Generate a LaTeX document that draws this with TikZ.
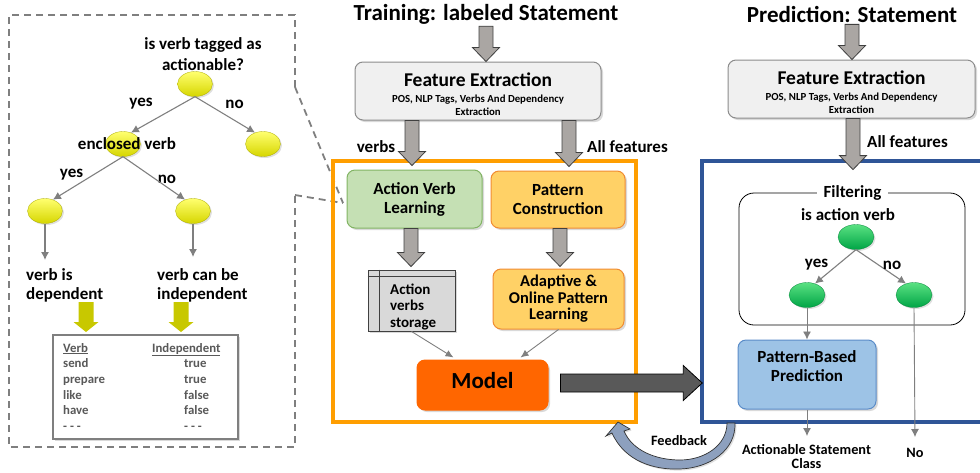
\documentclass[tikz,border=0pt]{standalone}
\usepackage{fontspec}
\setmainfont{Carlito}
\usetikzlibrary{shapes.geometric,arrows.meta,shadows,calc}
\definecolor{treegray}{RGB}{127,127,127}
\definecolor{ballyel}{RGB}{214,214,0}
\definecolor{ballyeltop}{RGB}{255,255,110}
\definecolor{olivearrow}{RGB}{200,200,0}
\definecolor{arrowfill}{RGB}{170,166,163}
\definecolor{arrowline}{RGB}{64,64,64}
\definecolor{fefill}{RGB}{240,240,240}
\definecolor{feline}{RGB}{140,140,140}
\definecolor{avlfill}{RGB}{197,224,180}
\definecolor{avlline}{RGB}{130,180,100}
\definecolor{pcfill}{RGB}{255,209,102}
\definecolor{pcline}{RGB}{240,140,50}
\definecolor{storefill}{RGB}{217,217,217}
\definecolor{modelfill}{RGB}{255,102,0}
\definecolor{bigarrow}{RGB}{89,89,89}
\definecolor{orframe}{RGB}{255,158,0}
\definecolor{blframe}{RGB}{47,85,151}
\definecolor{pbpfill}{RGB}{157,195,230}
\definecolor{pbpline}{RGB}{91,140,200}
\definecolor{gtop}{RGB}{90,225,130}
\definecolor{gbot}{RGB}{0,165,70}
\definecolor{fbfill}{RGB}{141,160,190}
\definecolor{tbltext}{RGB}{89,89,89}
\newcommand\fsz[2]{\fontsize{#1}{#2}\selectfont}
\newcommand\garrow[2]{%
  \filldraw[fill=arrowfill,draw=arrowline,line width=0.8pt,line join=miter]
    let \p1=#1, \p2=#2 in
    (\x1-7pt,\y1) -- (\x1+7pt,\y1) -- (\x1+7pt,\y2+14pt) -- (\x1+13.5pt,\y2+14pt)
    -- (\x1,\y2) -- (\x1-13.5pt,\y2+14pt) -- (\x1-7pt,\y2+14pt) -- cycle;}
\newcommand\yarrow[2]{%
  \fill[olivearrow]
    let \p1=#1, \p2=#2 in
    (\x1-7.5pt,\y1) -- (\x1+7.5pt,\y1) -- (\x1+7.5pt,\y2+10pt) -- (\x1+12.5pt,\y2+10pt)
    -- (\x1,\y2) -- (\x1-12.5pt,\y2+10pt) -- (\x1-7.5pt,\y2+10pt) -- cycle;}
\begin{document}
\begin{tikzpicture}[x=1pt,y=-1pt,font=\bfseries,
  txt/.style={inner sep=0pt,align=center},
  yball/.style={ellipse,minimum width=35pt,minimum height=25pt,inner sep=0pt,
     top color=ballyeltop,bottom color=ballyel,draw=ballyel!80!black,line width=0.3pt,
     drop shadow={opacity=0.25,shadow xshift=1.5pt,shadow yshift=-1.5pt}},
  gball/.style={ellipse,minimum width=36pt,minimum height=25pt,inner sep=0pt,
     top color=gtop,bottom color=gbot,draw=gbot!80!black,line width=0.3pt,
     drop shadow={opacity=0.25,shadow xshift=1.5pt,shadow yshift=-1.5pt}},
  tarrow/.style={draw=treegray,line width=1.1pt,-{Latex[length=8pt,width=8pt]}},
  rbox/.style={rectangle,rounded corners=8pt,inner sep=0pt,align=center,line width=1pt,
     drop shadow={opacity=0.3,shadow xshift=2pt,shadow yshift=-2pt}},
  frame/.style={rectangle,inner sep=0pt,line width=3.5pt}]
\useasboundingbox (0,0) rectangle (980,472);

% ---------------- left zoom panel ----------------
\coordinate (zt) at (343,203);
\draw[treegray,line width=1.8pt,dash pattern=on 7pt off 5pt]
  (295,87) -- (295,15) -- (9,15) -- (9,447) -- (295,447) -- (295,195);
\draw[treegray,line width=1.8pt,dash pattern=on 7pt off 5pt] (295,87) -- (zt);
\draw[treegray,line width=1.8pt,dash pattern=on 7pt off 5pt] (295,195) -- (zt);

\node[txt,font=\bfseries\fsz{17}{21}] (q0) at (203,54) {is verb tagged as\\actionable?};
\node[yball] (r0) at (195,84) {};
\node[yball] (n1) at (123,144) {};
\node[yball] (n2) at (263,144) {};
\node[yball] (n3) at (45,211) {};
\node[yball] (n4) at (193,211) {};
\node[txt,font=\bfseries\fsz{17}{19}] (ly1) at (141,104) {yes};
\node[txt,font=\bfseries\fsz{17}{19}] (ln1) at (234.5,104) {no};
\node[txt,font=\bfseries\fsz{17}{19}] (lenc) at (127,144) {enclosed verb};
\node[txt,font=\bfseries\fsz{17}{19}] (ly2) at (71.5,175) {yes};
\node[txt,font=\bfseries\fsz{17}{19}] (ln2) at (167,179) {no};
\draw[tarrow] (r0.south) -- (n1.55);
\draw[tarrow] (r0.south) -- (n2.125);
\draw[tarrow] (n1.south) -- (n3.55);
\draw[tarrow] (n1.south) -- (n4.125);
\coordinate (d1) at (45,260);
\coordinate (d2) at (193,257);
\draw[tarrow] (n3.south) -- (d1);
\draw[tarrow] (n4.south) -- (d2);
\node[txt,align=left,anchor=west,font=\bfseries\fsz{17}{19}] (dep) at (26,285.5) {verb is\\dependent};
\node[txt,align=left,anchor=west,font=\bfseries\fsz{17}{19}] (indep) at (157,285.5) {verb can be\\independent};

\node[rectangle,draw=treegray,line width=2pt,minimum width=185pt,minimum height=104pt,inner sep=0pt,
  drop shadow={opacity=0.3,shadow xshift=1.5pt,shadow yshift=-1.5pt},fill=white] (tbox) at (145.5,387) {};
\node[anchor=north west,inner sep=0pt,text=tbltext,font=\bfseries\fsz{12.8}{15.7}] (tbl) at (63,341)
  {\begin{tabular}{@{}p{89pt}@{}l@{}}
   \underline{Verb} & \underline{Independent}\\
   send & \hspace{32pt}true\\
   prepare & \hspace{32pt}true\\
   like & \hspace{32pt}false\\
   have & \hspace{32pt}false\\
   - - - & \hspace{32pt}- - -
   \end{tabular}};
\yarrow{($(tbox.north west)+(34,-32)$)}{($(tbox.north west)+(34,-2)$)}
\yarrow{($(tbox.north west)+(129,-32)$)}{($(tbox.north west)+(129,-2)$)}

% ---------------- training ----------------
\node[txt,font=\bfseries\fsz{23}{25}] (t1) at (486,14) {Training: labeled Statement};
\node[rbox,fill=fefill,draw=feline,minimum width=246pt,minimum height=58pt] (fe1) at (478,91) {};
\node[txt,font=\bfseries\fsz{19.5}{21}] (fe1t) at (478,80) {Feature Extraction};
\node[txt,font=\bfseries\fsz{10.8}{13}] (fe1s) at (478,105.5) {POS, NLP Tags, Verbs And Dependency\\Extraction};
\garrow{($(t1.south)+(0,2)$)}{(fe1.north)}

\node[frame,draw=orframe,minimum width=303pt,minimum height=261pt] (ob) at (484.5,291.5) {};
\node[rbox,fill=avlfill,draw=avlline,minimum width=135pt,minimum height=58pt,
  font=\bfseries\fsz{17}{19}] (avl) at (414.5,199) {Action Verb\\Learning};
\node[rbox,fill=pcfill,draw=pcline,minimum width=134pt,minimum height=57pt,
  font=\bfseries\fsz{17}{19}] (pc) at (558,199.5) {Pattern\\Construction};
\garrow{($(fe1.south)+(-66,0)$)}{($(avl.north)+(0,-4)$)}
\garrow{($(fe1.south)+(91,0)$)}{($(pc.north)+(0,-4)$)}
\node[txt,font=\bfseries\fsz{17}{19}] (lverbs) at (376,147) {verbs};
\node[txt,font=\bfseries\fsz{17}{19}] (lall1) at (627.5,147) {All features};

\node[rectangle,fill=storefill,draw=arrowline,line width=0.9pt,minimum width=87pt,minimum height=61pt,inner sep=0pt,
  drop shadow={opacity=0.3,shadow xshift=2pt,shadow yshift=-2pt}] (storage) at (411.5,300.5) {};
\draw[arrowline,line width=0.9pt] ($(storage.north west)+(12,0)$) -- ($(storage.south west)+(12,0)$);
\draw[arrowline,line width=0.9pt] ($(storage.north west)+(0,7)$) -- ($(storage.north east)+(0,7)$);
\node[txt,align=left,anchor=west,font=\bfseries\fsz{15}{16.5}] (storet) at (390,306.5) {Action\\verbs\\storage};
\node[rbox,fill=pcfill,draw=pcline,minimum width=131pt,minimum height=60pt,
  font=\bfseries\fsz{16.5}{16.5}] (adapt) at (558.5,299) {Adaptive \&\\Online Pattern\\Learning};
\garrow{($(avl.south)+(-3.5,0)$)}{($(storage.north)+(0,-3)$)}
\garrow{($(pc.south)+(2,0)$)}{($(adapt.north)+(0,-2)$)}

\node[rbox,fill=modelfill,draw=modelfill,minimum width=131pt,minimum height=50pt] (model) at (482.5,385) {};
\node[txt,font=\bfseries\fsz{23}{25}] (modelt) at (482.5,381) {Model};
\draw[tarrow,line width=0.9pt,-{Latex[length=8pt,width=7pt]}] (storage.south) -- ($(model.north)+(-29,-2)$);
\draw[tarrow,line width=0.9pt,-{Latex[length=8pt,width=7pt]}] (adapt.south) -- ($(model.north)+(38,-2)$);

% ---------------- prediction ----------------
\node[txt,font=\bfseries\fsz{23}{25}] (t2) at (852,14) {Prediction: Statement};
\node[rbox,fill=fefill,draw=feline,minimum width=247pt,minimum height=58pt] (fe2) at (851.5,89) {};
\node[txt,font=\bfseries\fsz{19.5}{21}] (fe2t) at (851.5,78) {Feature Extraction};
\node[txt,font=\bfseries\fsz{10.8}{13}] (fe2s) at (851.5,103.5) {POS, NLP Tags, Verbs And Dependency\\Extraction};
\garrow{($(t2.south)+(0,2)$)}{(fe2.north)}

\node[frame,draw=blframe,minimum width=290pt,minimum height=261pt] (bb) at (847,291.5) {};
\node[rectangle,rounded corners=15pt,draw=black,line width=0.8pt,minimum width=226pt,minimum height=132pt,inner sep=0pt] (filt) at (852,259) {};
\garrow{($(fe2.south)+(1.5,0)$)}{($(filt.north)+(1,-23)$)}
\node[txt,font=\bfseries\fsz{17}{19}] (lall2) at (907.5,142) {All features};
\node[fill=white,inner xsep=7pt,inner ysep=1pt,font=\bfseries\fsz{17}{19}] (filtt) at (852.5,193) {Filtering};
\node[txt,font=\bfseries\fsz{17}{19}] (isav) at (848,215) {is action verb};
\node[gball] (g0) at (856,237) {};
\node[gball] (g1) at (807,295) {};
\node[gball] (g2) at (914,295) {};
\draw[tarrow] (g0.south) -- (g1.55);
\draw[tarrow] (g0.south) -- (g2.125);
\node[txt,font=\bfseries\fsz{17}{19}] (ly3) at (816.5,265) {yes};
\node[txt,font=\bfseries\fsz{17}{19}] (ln3) at (892,265) {no};

\node[rbox,fill=pbpfill,draw=pbpline,minimum width=138pt,minimum height=69pt] (pbp) at (807,374.5) {};
\node[txt,font=\bfseries\fsz{17}{19}] (pbpt) at (807,366.5) {Pattern-Based\\Prediction};
\draw[tarrow,line width=0.9pt] (g1.south) -- (pbp.north);
\coordinate (e1) at (807,436);
\coordinate (e2) at (915,437);
\draw[tarrow,line width=0.9pt] (pbp.south) -- (e1);
\draw[tarrow,line width=0.9pt] (g2.south) -- (e2);
\node[txt,font=\bfseries\fsz{14.3}{14.5}] (lact) at (806.5,456.5) {Actionable Statement\\Class};
\node[txt,font=\bfseries\fsz{14.3}{15}] (lno) at (915,453) {No};

% ---------------- model -> prediction ----------------
\filldraw[fill=bigarrow,draw=black,line width=0.8pt]
  let \p1=($(model.east)+(12,-2)$), \p2=($(bb.west)+(2,0)$) in
  (\x1,\y1+9pt) -- (\x2-19pt,\y1+9pt) -- (\x2-19pt,\y1+17.5pt) -- (\x2,\y1)
  -- (\x2-19pt,\y1-17.5pt) -- (\x2-19pt,\y1-9pt) -- (\x1,\y1-9pt) -- cycle;

% ---------------- feedback ----------------
\filldraw[fill=fbfill,draw=black!80,line width=0.7pt,
  drop shadow={opacity=0.25,shadow xshift=1.5pt,shadow yshift=-1.5pt}]
  (612,433) .. controls (625,462) and (655,470) .. (680,469)
  .. controls (710,468) and (736,450) .. (735,423)
  -- (727,423)
  .. controls (727,445) and (705,460) .. (680,460)
  .. controls (655,460) and (632,450) .. (624,431)
  -- (630,429) -- (618,422) -- (606,436) -- cycle;
\node[txt,font=\bfseries\fsz{14.3}{15}] (lfb) at (679,441) {Feedback};
\end{tikzpicture}
\end{document}
